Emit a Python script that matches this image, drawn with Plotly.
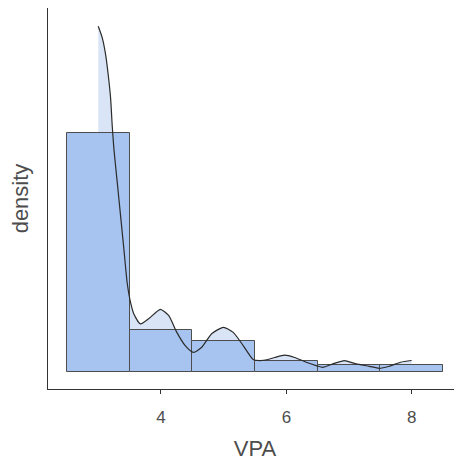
import plotly.graph_objects as go

# Histogram (binwidth 1, bins centred on integers), density scale
bin_centers = [3, 4, 5, 6, 7, 8]
bin_density = [0.704, 0.123, 0.091, 0.033, 0.020, 0.020]

# Kernel density curve
dens_x = [3.001, 3.065, 3.119, 3.160, 3.198, 3.223, 3.250, 3.303, 3.356, 3.409,
          3.461, 3.515, 3.567, 3.674, 3.805, 3.991, 4.123, 4.254, 4.387, 4.519,
          4.651, 4.809, 4.995, 5.153, 5.312, 5.471, 5.577, 5.709, 5.815, 5.973,
          6.132, 6.316, 6.475, 6.581, 6.740, 6.925, 7.109, 7.322, 7.480, 7.639,
          7.823, 7.997]
dens_y = [1.019, 0.985, 0.935, 0.876, 0.807, 0.728, 0.659, 0.560, 0.462, 0.363,
          0.264, 0.205, 0.171, 0.141, 0.156, 0.184, 0.166, 0.116, 0.077, 0.057,
          0.072, 0.112, 0.131, 0.116, 0.077, 0.036, 0.033, 0.036, 0.042, 0.049,
          0.042, 0.028, 0.018, 0.013, 0.023, 0.033, 0.023, 0.016, 0.010, 0.016,
          0.028, 0.033]

x_ticks = [4, 6, 8]
x_range = [2.2, 8.8]
y_range = [-0.051, 1.073]

FONT = "Liberation Sans, Arial, sans-serif"
BAR_FILL = "#a6c4ef"
DENS_FILL = "#d9e5f6"
EDGE = "#4d4d4d"

fig = go.Figure()

# density area (bottom layer)
fig.add_trace(go.Scatter(x=dens_x, y=dens_y, mode="lines", fill="tozeroy",
                         fillcolor=DENS_FILL, line=dict(width=0, shape="spline", smoothing=0.6),
                         hoverinfo="skip", showlegend=False, xaxis="x", yaxis="y"))

# histogram bars (overlay layer)
fig.add_trace(go.Bar(x=bin_centers, y=bin_density, width=1,
                     marker=dict(color=BAR_FILL, line=dict(color=EDGE, width=1)),
                     showlegend=False, xaxis="x2", yaxis="y2"))

# density line on top
fig.add_trace(go.Scatter(x=dens_x, y=dens_y, mode="lines",
                         line=dict(color="#2b2b2b", width=1.2, shape="spline", smoothing=0.6),
                         showlegend=False, xaxis="x2", yaxis="y2"))

fig.update_layout(
    width=454, height=456,
    margin=dict(l=40, r=0, t=0, b=75),
    paper_bgcolor="white", plot_bgcolor="white",
    font=dict(family=FONT, color="#4d4d4d"),
    bargap=0,
    xaxis=dict(range=x_range, tickvals=x_ticks, ticktext=[str(v) for v in x_ticks],
               automargin=False,
               showgrid=False, zeroline=False, showline=True, linecolor="#333333",
               linewidth=1.2, ticks="outside", ticklen=4, tickcolor="#333333",
               tickwidth=1.2, tickfont=dict(size=17, color="#4d4d4d"),
               ticklabelstandoff=8,
               title=dict(text="VPA", font=dict(size=22, color="#4d4d4d"), standoff=15)),
    yaxis=dict(range=y_range, showgrid=False, zeroline=False, showline=True,
               automargin=False,
               linecolor="#333333", linewidth=1.2, showticklabels=False, ticks="",
               title=dict(text="density", font=dict(size=22, color="#4d4d4d"), standoff=15)),
    xaxis2=dict(range=x_range, overlaying="x", visible=False),
    yaxis2=dict(range=y_range, overlaying="y", visible=False),
)

fig.write_html("out.html")
